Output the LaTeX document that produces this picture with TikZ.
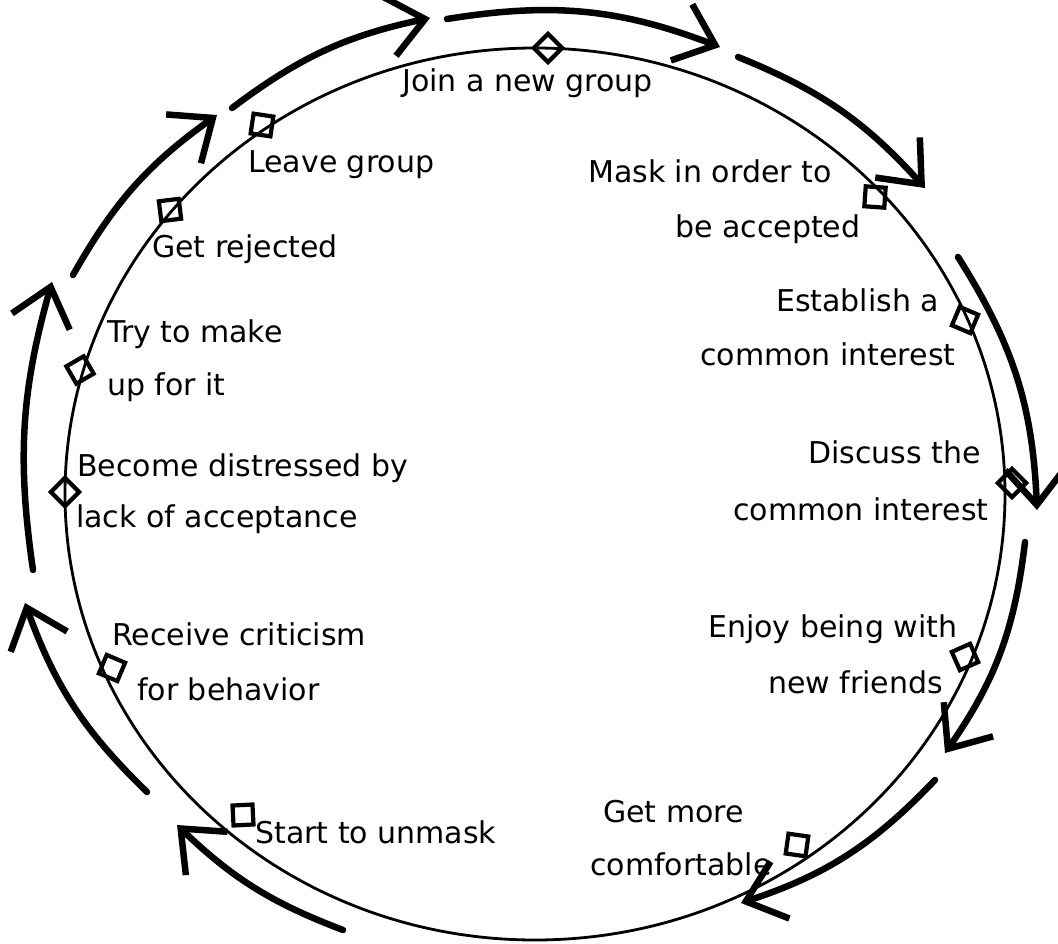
\documentclass[tikz,border=0pt]{standalone}
\usepackage{fontspec}
\setmainfont{DejaVu Sans}
\usetikzlibrary{arrows.meta,shapes.geometric}
\begin{document}
\begin{tikzpicture}[x=1pt,y=-1pt,
  lbl/.style={anchor=base west,inner sep=0pt,font=\fontsize{30}{36}\selectfont},
  dmd/.style={draw,shape=diamond,line width=4.2pt,minimum size=30pt,inner sep=0pt},
  ring/.style={line width=2.8pt},
  bulge/.style={bend left=#1},
  arr/.style={line width=6.5pt,line cap=round,-{Straight Barb[length=36pt,width=60pt]}}]
\useasboundingbox (0,0) rectangle (1058,944);
\coordinate (c) at (535,494);
\draw[ring] (c) ellipse [x radius=470, y radius=446];

% stage markers
\node[dmd,rotate=0]    (djoin)  at (548,48)  {};
\node[dmd,rotate=36.5] (dleave) at (262,125) {};
\node[dmd,rotate=52]   (drej)   at (170,210) {};
\node[dmd,rotate=75]   (dtry)   at (80,370)  {};
\node[dmd,rotate=0]    (dbec)   at (65,492)  {};
\node[dmd,rotate=22]   (drec)   at (112,668) {};
\node[dmd,rotate=48]   (dstart) at (243,815) {};
\node[dmd,rotate=37]   (dgm)    at (797,845) {};
\node[dmd,rotate=69]   (denj)   at (965,657) {};
\node[dmd,rotate=0]    (ddis)   at (1012,483) {};
\node[dmd,rotate=22]   (dest)   at (965,320) {};
\node[dmd,rotate=41]   (dmask)  at (875,197) {};

% labels
\node[lbl] (join)  at (402,92)  {Join a new group};
\node[lbl] (leave) at (248,173) {Leave group};
\node[lbl] (rej)   at (152,258) {Get rejected};
\node[lbl] (try1)  at (107,342) {Try to make};
\node[lbl] (try2)  at (107,395) {up for it};
\node[lbl] (bec1)  at (77,476)  {Become distressed by};
\node[lbl] (bec2)  at (76,527)  {lack of acceptance};
\node[lbl] (rec1)  at (112,645) {Receive criticism};
\node[lbl] (rec2)  at (137,700) {for behavior};
\node[lbl] (start) at (255,843) {Start to unmask};
\node[lbl] (gm1)   at (603,822) {Get more};
\node[lbl] (gm2)   at (590,875) {comfortable};
\node[lbl] (enj1)  at (708,637) {Enjoy being with};
\node[lbl] (enj2)  at (768,693) {new friends};
\node[lbl] (dis1)  at (808,463) {Discuss the};
\node[lbl] (dis2)  at (733,520) {common interest};
\node[lbl] (est1)  at (776,312) {Establish a};
\node[lbl] (est2)  at (700,365) {common interest};
\node[lbl] (mask1) at (588,183) {Mask in order to};
\node[lbl] (mask2) at (675,238) {be accepted};

% outer arrows
\coordinate (a1s) at (73,275);   \coordinate (a1e) at (217,115);
\coordinate (a2s) at (232,108);  \coordinate (a2e) at (430,18);
\coordinate (a3s) at (447,19);   \coordinate (a3e) at (720,47);
\coordinate (a4s) at (738,57);   \coordinate (a4e) at (925,188);
\coordinate (a5s) at (958,257);  \coordinate (a5e) at (1037,510);
\coordinate (a6s) at (1025,542); \coordinate (a6e) at (945,753);
\coordinate (a7s) at (935,780);  \coordinate (a7e) at (741,903);
\coordinate (a8s) at (343,930);  \coordinate (a8e) at (177,825);
\coordinate (a9s) at (147,792);  \coordinate (a9e) at (25,603);
\coordinate (a10s) at (33,570);  \coordinate (a10e) at (52,282);
\draw[arr] (a1s) to[bulge=12.5] (a1e);
\draw[arr] (a2s) to[bulge=12.5] (a2e);
\draw[arr] (a3s) to[bulge=15] (a3e);
\draw[arr] (a4s) to[bulge=13] (a4e);
\draw[arr] (a5s) to[bulge=15] (a5e);
\draw[arr] (a6s) to[bulge=14] (a6e);
\draw[arr] (a7s) to[bulge=14] (a7e);
\draw[arr] (a8s) to[bulge=11.5] (a8e);
\draw[arr] (a9s) to[bulge=13] (a9e);
\draw[arr] (a10s) to[bulge=12] (a10e);
\end{tikzpicture}
\end{document}
